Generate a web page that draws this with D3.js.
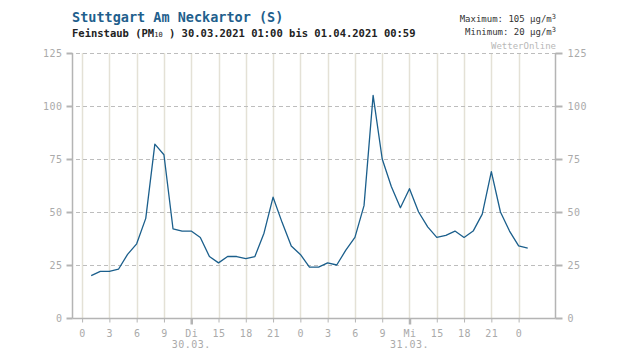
<!DOCTYPE html>
<html>
<head>
<meta charset="utf-8">
<script src="https://cdn.jsdelivr.net/npm/d3@7"></script>
<style>
  body { margin: 0; background: #fff; }
  svg { display: block; font-family: "DejaVu Sans Mono", monospace; }
</style>
</head>
<body>
<div id="chart"></div>
<script>
// PM10 hourly values, 30.03.2021 01:00 ... 01.04.2021 01:00 (hour offsets from 30.03. 00:00)
const startHour = 1
const pm10 = [20, 22, 22, 23, 30, 35, 47, 82, 77, 42, 41, 41, 38, 29, 26, 29, 29, 28, 29, 40,
    57, 45, 34, 30, 24, 24, 26, 25, 32, 38, 53, 105, 75, 62, 52, 61, 50, 43, 38, 39,
    41, 38, 41, 49, 69, 50, 41, 34, 33]

const xTickHours = [0, 3, 6, 9, 12, 15, 18, 21, 24, 27, 30, 33, 36, 39, 42, 45, 48]
const xTickLabels = ["0", "3", "6", "9", "Di", "15", "18", "21", "0", "3", "6", "9", "Mi", "15", "18", "21", "0"]
const dayTickHours = [12, 36]
const dayLabels = ["30.03.", "31.03."]
const yTicks = [0, 25, 50, 75, 100, 125]

const width = 632
const height = 355
const plot = {left: 73, right: 555, top: 53, bottom: 318}

const svg = d3.select("#chart").append("svg")
    .attr("width", width)
    .attr("height", height)

const x = d3.scaleLinear().domain([-1, 52]).range([plot.left, plot.right])
const y = d3.scaleLinear().domain([0, 125]).range([plot.bottom, plot.top])

// vertical grid
svg.append("g")
    .selectAll("line")
    .data(xTickHours)
    .enter()
    .append("line")
    .attr("x1", d => Math.round(x(d)) + 0.5)
    .attr("x2", d => Math.round(x(d)) + 0.5)
    .attr("y1", plot.top)
    .attr("y2", plot.bottom)
    .attr("stroke", "#e4e1d6")
    .attr("stroke-width", 1.5)

// horizontal dashed grid
svg.append("g")
    .selectAll("line")
    .data(yTicks.filter(d => d > 0))
    .enter()
    .append("line")
    .attr("x1", plot.left + 3)
    .attr("x2", plot.right)
    .attr("y1", d => Math.round(y(d)) + 0.5)
    .attr("y2", d => Math.round(y(d)) + 0.5)
    .attr("stroke", "#bdbdbd")
    .attr("stroke-dasharray", "4,3")

// y axes left and right
const yAxisL = d3.axisLeft(y).tickValues(yTicks).tickSize(6).tickPadding(4)
const yAxisR = d3.axisRight(y).tickValues(yTicks).tickSize(7).tickPadding(5)

const gl = svg.append("g").attr("transform", `translate(${plot.left - 0.5},0)`).call(yAxisL)
const gr = svg.append("g").attr("transform", `translate(${plot.right + 0.5},0)`).call(yAxisR)

;[gl, gr].forEach(g => {
    g.select(".domain").attr("stroke", "#b4b4b4").attr("stroke-width", 1.5)
        .attr("d", `M0,${plot.top}V${plot.bottom + 0.5}`)
    g.selectAll(".tick line").attr("stroke", "#b4b4b4").attr("stroke-width", 2)
    g.selectAll(".tick text")
        .attr("fill", "#aaa")
        .style("font-family", "DejaVu Sans Mono, monospace")
        .style("font-size", "10px")
        .style("letter-spacing", "0.5px")
})

// x axis
const xAxis = d3.axisBottom(x)
    .tickValues(xTickHours)
    .tickFormat((d, i) => xTickLabels[i])
    .tickSize(4)
    .tickPadding(7)

const gx = svg.append("g").attr("transform", `translate(0,${plot.bottom + 0.5})`).call(xAxis)
gx.select(".domain").attr("stroke", "#b4b4b4").attr("stroke-width", 1.5)
    .attr("d", `M${plot.left - 0.5},0H${plot.right + 0.5}`)
gx.selectAll(".tick line")
    .attr("stroke", "#b4b4b4")
    .attr("stroke-width", d => dayTickHours.includes(d) ? 2.5 : 1)
    .attr("y2", d => dayTickHours.includes(d) ? 6 : 4)
gx.selectAll(".tick text")
    .attr("fill", "#aaa")
    .style("font-family", "DejaVu Sans Mono, monospace")
    .style("font-size", "10px")
    .style("letter-spacing", "0.5px")

svg.append("g")
    .selectAll("text")
    .data(dayTickHours)
    .enter()
    .append("text")
    .attr("x", d => x(d))
    .attr("y", 348)
    .attr("text-anchor", "middle")
    .attr("fill", "#aaa")
    .style("font-size", "10px")
    .style("letter-spacing", "0.5px")
    .text((d, i) => dayLabels[i])

// data line
const line = d3.line()
    .x((d, i) => x(startHour + i))
    .y(d => y(d))

svg.append("path")
    .datum(pm10)
    .attr("d", line)
    .attr("fill", "none")
    .attr("stroke", "#1b5f8c")
    .attr("stroke-width", 1.3)
    .attr("stroke-linejoin", "round")

// titles
svg.append("text")
    .attr("x", 72)
    .attr("y", 22)
    .attr("fill", "#1f5f8d")
    .style("font-size", "13.5px")
    .style("font-weight", "bold")
    .text("Stuttgart Am Neckartor (S)")

const sub = svg.append("text")
    .attr("x", 72)
    .attr("y", 37)
    .attr("fill", "#222")
    .style("font-size", "10.5px")
    .style("font-weight", "bold")
sub.append("tspan").text("Feinstaub (PM")
sub.append("tspan").style("font-size", "7px").style("font-weight", "normal").text("10")
sub.append("tspan").text(" ) 30.03.2021 01:00 bis 01.04.2021 00:59")

const info = svg.append("g").attr("fill", "#333").style("font-size", "9px")
const maxT = info.append("text").attr("x", 556).attr("y", 22).attr("text-anchor", "end")
maxT.append("tspan").text("Maximum: " + d3.max(pm10) + " µg/m")
maxT.append("tspan").attr("dy", -3).style("font-size", "7px").text("3")
const minT = info.append("text").attr("x", 556).attr("y", 35).attr("text-anchor", "end")
minT.append("tspan").text("Minimum:  " + d3.min(pm10) + " µg/m")
minT.append("tspan").attr("dy", -3).style("font-size", "7px").text("3")

svg.append("text")
    .attr("x", 556)
    .attr("y", 49)
    .attr("text-anchor", "end")
    .attr("fill", "#b8b8b8")
    .style("font-size", "9px")
    .text("WetterOnline")
</script>
</body>
</html>
